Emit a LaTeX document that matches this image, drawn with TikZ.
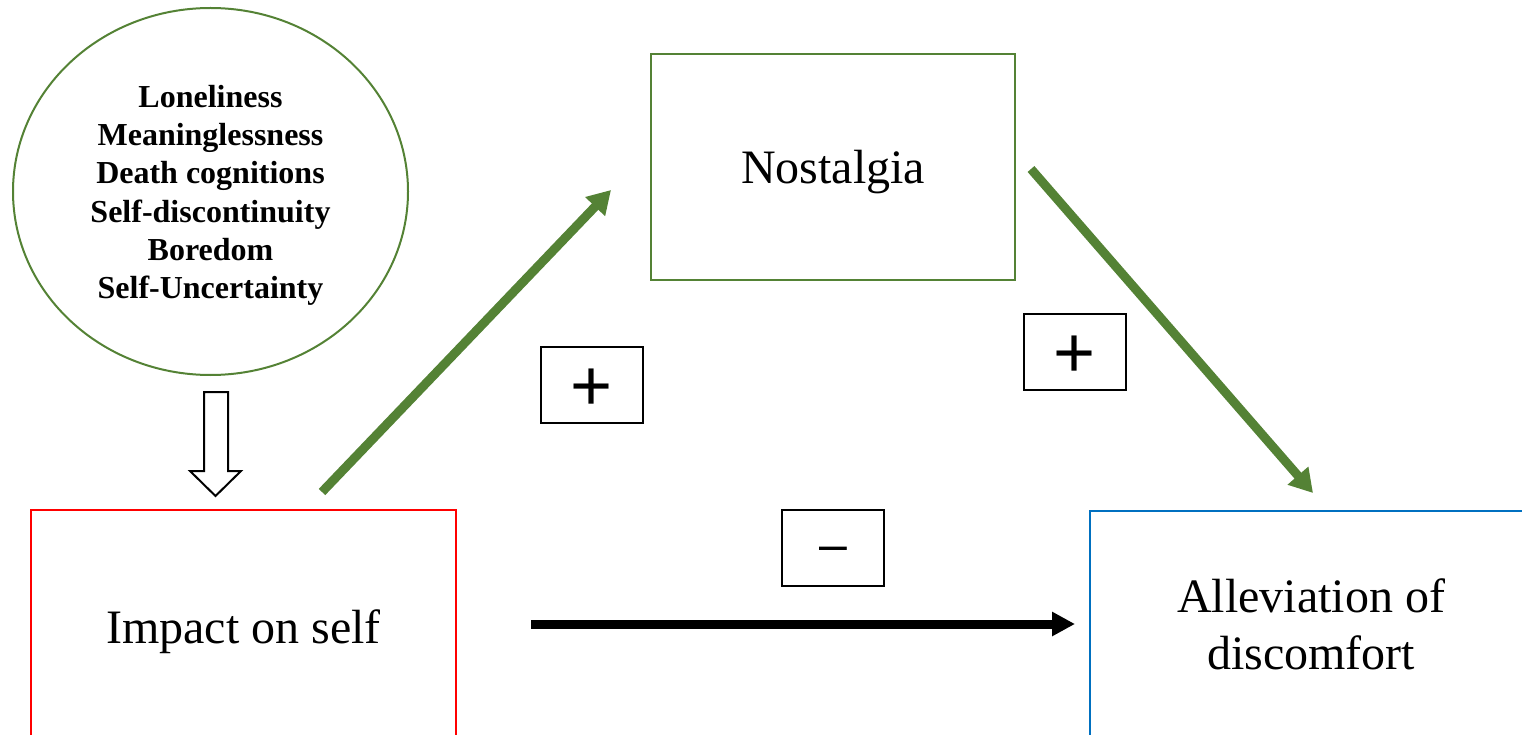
\documentclass[tikz,border=0pt]{standalone}
\usepackage{fontspec}
\setmainfont{Liberation Serif}
\newfontfamily\signfont{Liberation Sans}
\usetikzlibrary{shapes.geometric,arrows.meta}
\definecolor{leaf}{HTML}{548235}
\definecolor{alarm}{HTML}{FF0000}
\definecolor{sky}{HTML}{0070C0}
\tikzset{
  x=1pt, y=-1pt,
  bigbox/.style={draw, line width=2pt, rectangle, inner sep=0pt, align=center,
    font=\fontsize{48}{56.5}\selectfont},
  signbox/.style={draw=black, line width=2pt, rectangle, inner sep=0pt,
    minimum width=102pt, minimum height=76pt},
  plussign/.style={signbox, font=\signfont\fontsize{72}{72}\selectfont,
    text height=50.6pt, text depth=0pt},
  minussign/.style={signbox, font=\signfont\fontsize{50}{50}\selectfont,
    text height=27.6pt, text depth=0pt},
  greenarrow/.style={draw=leaf, line width=9pt,
    -{Triangle[length=23pt,width=26pt]}},
  blackarrow/.style={draw=black, line width=9pt,
    -{Triangle[length=23pt,width=23pt]}},
}
\begin{document}
\begin{tikzpicture}
\useasboundingbox (0,0) rectangle (1522,735);
\clip (0,0) rectangle (1522,735);

% threats to the self
\node[ellipse, draw=leaf, line width=2pt, inner sep=0pt,
      minimum width=395pt, minimum height=367pt, align=center,
      font=\fontsize{32}{38.3}\selectfont\bfseries] (threats) at (210.5,191.5)
  {\rule{0pt}{30pt}Loneliness\\Meaninglessness\\Death cognitions\\Self-discontinuity\\Boredom\\Self-Uncertainty};

% main constructs
\node[bigbox, draw=leaf, minimum width=364pt, minimum height=226pt,
      text height=32.8pt, text depth=0pt] (nostalgia) at (833,167) {Nostalgia};
\node[bigbox, draw=alarm, minimum width=425pt, minimum height=232pt,
      text height=34pt, text depth=0pt] (impact) at (243.5,626) {Impact on self};
\node[bigbox, draw=sky, minimum width=442pt, minimum height=232pt] (relief) at (1311,627)
  {Alleviation of\\discomfort\rule[-6pt]{0pt}{6pt}};

% signs of the paths
\node[plussign] (plusA) at (592,385) {+};
\node[plussign] (plusB) at (1074.5,352) {+};
\node[minussign] (minus) at (833,548) {–};

% hollow block arrow from the threats to the self
\draw[line width=2pt, line join=miter, fill=white]
  (204,392) -- (228,392) -- (228,471) -- (241,471) -- (215.5,496)
  -- (190,471) -- (204,471) -- cycle;

% path ends
\coordinate (aStart) at (322,492);
\coordinate (aEnd) at (611,190);
\coordinate (bStart) at (1031,169);
\coordinate (bEnd) at (1313,493);
\coordinate (cStart) at (531,624);
\coordinate (cEnd) at (1075,624);

\draw[greenarrow] (aStart) -- (aEnd);
\draw[greenarrow] (bStart) -- (bEnd);
\draw[blackarrow] (cStart) -- (cEnd);
\end{tikzpicture}
\end{document}
